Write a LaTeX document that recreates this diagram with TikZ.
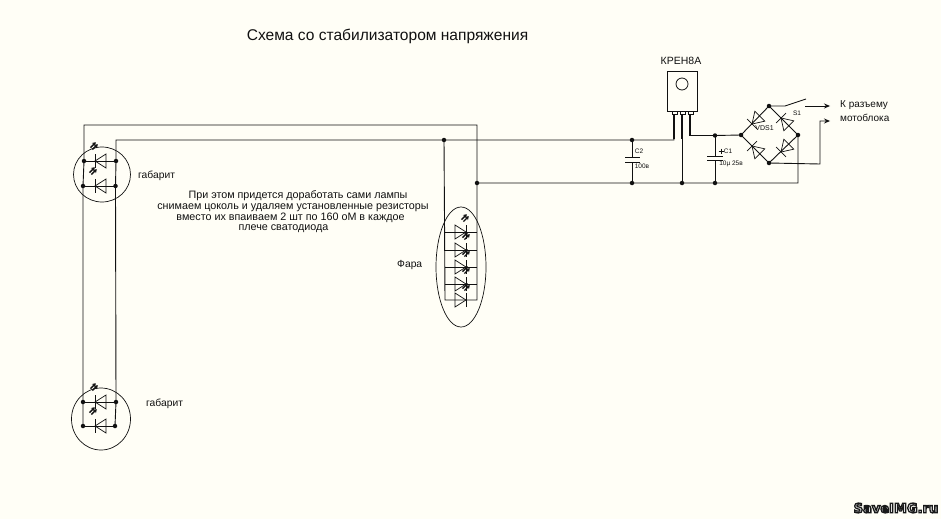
\documentclass[tikz,border=0pt]{standalone}
\usepackage{fontspec}
\setmainfont{Liberation Sans}
\newfontfamily\wmfont{DejaVu Sans Bold}
\usetikzlibrary{arrows.meta,shapes.geometric}
\definecolor{paper}{HTML}{FFFEF6}
\definecolor{ink}{HTML}{111111}
\newcommand{\dsize}[2]{\fontsize{#1}{#1}\selectfont #2}
\newcommand{\sdiode}[3]{%
  \begin{scope}[shift={(#1,#2)},rotate=#3]
    \draw[comp] (11,-7) -- (0,0) -- (11,7) -- cycle;
    \draw[comp] (0,-7) -- (0,7);
  \end{scope}}
\newcommand{\ledmark}[3]{%
  \begin{scope}[shift={(#1,#2)},rotate=#3]
    \draw[led] (-5,-1.4) -- (2.5,-1.4);
    \draw[led] (-5,1.4) -- (2.5,1.4);
  \end{scope}}
\begin{document}
\begin{tikzpicture}[x=1pt,y=-1pt,
  wire/.style={draw=ink,line width=0.9pt},
  comp/.style={draw=ink,line width=0.7pt},
  led/.style={draw=ink,line width=1.4pt,-{Stealth[length=3.5pt,width=4.5pt]}},
  dot/.style={circle,fill=ink,draw=none,inner sep=0pt,minimum size=4.5pt},
  txt/.style={inner sep=0pt,text=ink,font=\dsize{10}{}},
  note/.style={txt,anchor=base,font=\dsize{10.75}{}},
  tiny/.style={inner sep=0pt,text=ink,font=\dsize{6.5}{}},
  lamp/.style={ellipse,draw=ink,line width=0.7pt,inner sep=0pt},
  arr/.style={wire,-{Stealth[length=6pt,width=5pt]}}]
\useasboundingbox[fill=paper] (0,0) rectangle (941,519);

% texts
\node[inner sep=0pt,text=ink,font=\dsize{15.55}{}] (title) at (387.5,36.5) {Схема со стабилизатором напряжения};
\node[txt,font=\dsize{10.5}{}] (kren) at (681,60.5) {КРЕН8А};
\node[txt,anchor=west] (conn1) at (840,105.5) {К разъему};
\node[txt,anchor=west] (conn2) at (840,117.5) {мотоблока};
\node[note] (n1) at (298,198.5) {При этом придется доработать сами лампы};
\node[note] (n2) at (293,209.5) {снимаем цоколь и удаляем установленные резисторы};
\node[note] (n3) at (290.5,220.5) {вместо их впаиваем 2 шт по 160 оМ в каждое};
\node[note] (n4) at (283.5,230.5) {плече сватодиода};
\node[txt,anchor=west,font=\dsize{10.3}{}] (g1) at (138,175.5) {габарит};
\node[txt,anchor=west,font=\dsize{10.3}{}] (g2) at (146,403.5) {габарит};
\node[txt,anchor=west,font=\dsize{10.3}{}] (fara) at (397,264.5) {Фара};
\node[tiny] (lc2) at (639,151) {C2};
\node[tiny] (lc2v) at (642,166) {100в};
\node[tiny] (lc1) at (728,151) {C1};
\node[tiny] (lc1v) at (731,164) {10µ 25в};
\node[tiny] (ls1) at (797,113) {S1};
\node[tiny,font=\dsize{7}{}] (lvds) at (764.5,128) {VDS1};
\node[inner sep=0pt,text=white,font=\wmfont\dsize{13}{}] (wm) at (896,508)
  {\special{pdf:code q 1.3 w 0.1 0.1 0.1 RG 2 Tr}SaveIMG.ru\special{pdf:code 0 Tr Q}};

% junctions
\node[dot] (j1) at (632,140) {};
\node[dot] (j2) at (632,183) {};
\node[dot] (j3) at (682,183) {};
\node[dot] (j4) at (715,135.5) {};
\node[dot] (j5) at (715,183) {};
\node[dot] (j6) at (477,183) {};
\node[dot] (j7) at (444,140) {};
\node[dot] (bl) at (741,135) {};
\node[dot] (bt) at (769,106) {};
\node[dot] (bb) at (769,163) {};
\node[dot] (br) at (798,135) {};
\node[dot] (a1) at (84,161) {};
\node[dot] (b1) at (116,161) {};
\node[dot] (a2) at (83,186) {};
\node[dot] (b2) at (115.5,186) {};
\node[dot] (a3) at (83,402) {};
\node[dot] (b3) at (116,402) {};
\node[dot] (a4) at (83,426) {};
\node[dot] (b4) at (115,426) {};
\coordinate (tl) at (84,125);
\coordinate (tr) at (477,125);
\coordinate (il) at (116,140);
\coordinate (fl) at (445,300);
\coordinate (fr) at (477,300);
\coordinate (p1) at (674,140);
\coordinate (p1t) at (674,114);
\coordinate (p2t) at (682,114);
\coordinate (p3t) at (690,114);
\coordinate (p3b) at (690,135.5);
\coordinate (cr) at (798,183);

% main wires
\draw[wire] (b4.center) -- (b3.center) -- (b2.center) -- (b1.center) -- (il) -- (j7.center) -- (j1.center) -- (p1) -- (p1t);
\draw[wire] (a4.center) -- (a3.center) -- (a2.center) -- (a1.center) -- (tl) -- (tr) -- (j6.center) -- (j2.center) -- (j3.center) -- (j5.center) -- (cr) -- (br.center);
\draw[wire] (j7.center) -- (fl) -- (fr) -- (j6.center);
\draw[wire] (p2t) -- (j3.center);
\draw[wire] (p3t) -- (p3b) -- (j4.center) -- (bl.center);
\draw[wire] (j1.center) -- (632,157);
\draw[wire] (j2.center) -- (632,162);
\draw[wire] (j4.center) -- (715,156);
\draw[wire] (j5.center) -- (715,160);
\draw[wire] (625,157) -- (640,157);
\draw[wire] (625,162) -- (640,162);
\draw[wire] (707,156) -- (723,156);
\draw[wire] (707,160) -- (723,160);
\draw[wire,line width=0.7pt] (718.5,151) -- (723.5,151) (721,148.5) -- (721,153.5);

% KREN8A
\node[draw=ink,line width=0.8pt,minimum width=30pt,minimum height=40pt,inner sep=0pt] (reg) at (682,91) {};
\node[circle,draw=ink,line width=0.8pt,minimum size=12pt,inner sep=0pt] (hole) at (682,84) {};
\draw[ink,line width=1.8pt] (674,111) -- (674,139);
\draw[ink,line width=1.8pt] (682,111) -- (682,139);
\draw[ink,line width=1.8pt] (690,111) -- (690,136);
\draw[comp,fill=paper] (672,111) rectangle (677,114);
\draw[comp,fill=paper] (680,111) rectangle (685,114);
\draw[comp,fill=paper] (688,111) rectangle (693,114);

% bridge
\draw[wire] (bl.center) -- (bt.center) -- (br.center) -- (bb.center) -- (bl.center);
\sdiode{752}{124}{45}
\sdiode{781}{118}{-45}
\sdiode{752}{146}{-45}
\sdiode{781}{152}{45}
\draw[wire] (bt.center) -- (785,106) -- (806,99);
\draw[arr] (805,106) -- (830,106);
\draw[arr] (bb.center) -- (820,164) -- (820,121) -- (830,121);

% side lamps
\node[lamp,minimum width=57pt,minimum height=55pt] (lamp1) at (102,174.5) {};
\node[lamp,minimum width=59pt,minimum height=62pt] (lamp2) at (101,419) {};
\draw[wire] (a1.center) -- (b1.center);
\draw[wire] (a2.center) -- (b2.center);
\draw[wire] (a3.center) -- (b3.center);
\draw[wire] (a4.center) -- (b4.center);
\sdiode{95}{161}{0}
\sdiode{95}{186}{0}
\sdiode{95}{402}{0}
\sdiode{95}{426}{0}
\ledmark{95}{145}{45}
\ledmark{94}{170}{45}
\ledmark{95}{386}{45}
\ledmark{94}{410}{45}

% headlight
\node[lamp,minimum width=50pt,minimum height=120pt] (lamp3) at (461,267) {};
\draw[wire] (445,232) -- (477,232);
\draw[wire] (445,250) -- (477,250);
\draw[wire] (445,267) -- (477,267);
\draw[wire] (445,284) -- (477,284);
\sdiode{466}{232}{180}
\sdiode{466}{250}{180}
\sdiode{466}{267}{180}
\sdiode{466}{284}{180}
\sdiode{466}{300}{180}
\ledmark{466}{217}{45}
\ledmark{467}{235}{45}
\ledmark{467}{252}{45}
\ledmark{467}{269}{45}
\ledmark{467}{286}{45}
\end{tikzpicture}
\end{document}
